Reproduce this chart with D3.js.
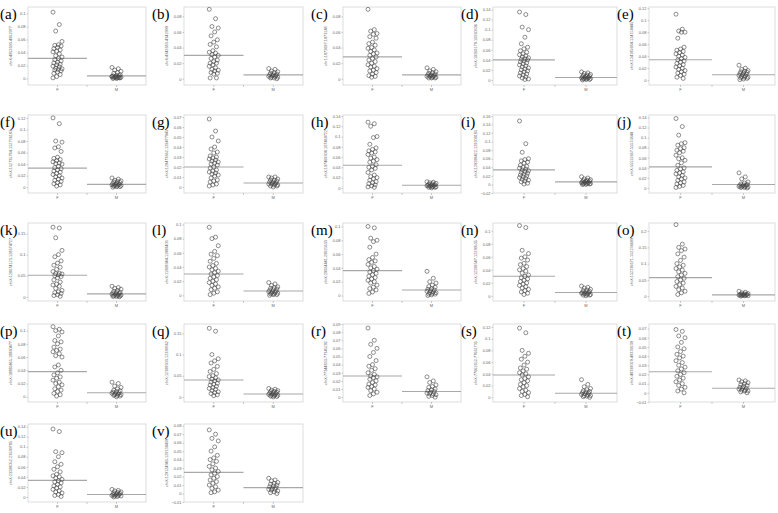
<!DOCTYPE html>
<html>
<head>
<meta charset="utf-8">
<script src="https://cdn.jsdelivr.net/npm/d3@7"></script>
<style>
  body { margin: 0; background: #fff; }
  .panel-label { font-family: "Liberation Serif", "DejaVu Serif", serif; font-size: 15px; fill: #000; }
  .tick text { font-family: "Liberation Sans", Arial, sans-serif; font-size: 4px; fill: #666; }
  .ytitle { font-family: "Liberation Sans", Arial, sans-serif; font-size: 3.8px; fill: #666; }
</style>
</head>
<body>
<div class="canvas"></div>
<script>
const W = 778, H = 513;

// panel letters and y axis titles
const labels = 'abcdefghijklmnopqrstuv'.split('');
const yTitles = [
  'chrX:4952693-4952977', 'chrX:4342683-4342999', 'chr1:1872697-1873148', 'chrX:10260179-10260336', 'chrX:124185684-124159445',
  'chrX:152735784-152736183', 'chrX:129473662-129477945', 'chrX:107469308-107469722', 'chrX:129299422-129300185', 'chrX:55515667-55515844',
  'chrX:128674123-128674727', 'chrX:11908944-11988403', 'chrX:29024441-29025633', 'chrX:12299347-12299535', 'chrX:152236671-152236699',
  'chrX:18880465-18880477', 'chrX:12399303-12399362', 'chrX:77344833-77345292', 'chrX:77661652-77661735', 'chrX:48339029-48339239',
  'chrX:23598052-23599785', 'chrX:129124945-129138439'
];
const groups = ['F', 'M'];

// y axis ranges and tick steps
const yMin = [-0.01, -0.008, -0.008, -0.01, -0.008, -0.01, -0.006, -0.01, -0.02, -0.01, -0.01, -0.008, -0.008, -0.008, -0.015, -0.008, -0.012, -0.006, -0.008, -0.01, -0.01, -0.01];
const yMax = [0.11, 0.092, 0.092, 0.145, 0.122, 0.125, 0.072, 0.142, 0.162, 0.145, 0.175, 0.102, 0.105, 0.112, 0.225, 0.11, 0.172, 0.09, 0.125, 0.075, 0.145, 0.082];
const tickStep = [0.02, 0.02, 0.02, 0.02, 0.02, 0.02, 0.01, 0.02, 0.02, 0.02, 0.05, 0.02, 0.02, 0.02, 0.05, 0.02, 0.05, 0.01, 0.02, 0.01, 0.02, 0.01];

// group means
const fMeans = [0.031, 0.030, 0.028, 0.040, 0.034, 0.033, 0.020, 0.044, 0.034, 0.042, 0.051, 0.030, 0.036, 0.030, 0.057, 0.038, 0.040, 0.026, 0.038, 0.023, 0.033, 0.025];
const mMeans = [0.004, 0.005, 0.005, 0.005, 0.009, 0.005, 0.004, 0.005, 0.006, 0.007, 0.007, 0.006, 0.008, 0.005, 0.004, 0.006, 0.007, 0.007, 0.007, 0.005, 0.005, 0.007];

// female values
const fVals = [
  [0.102, 0.083, 0.073, 0.057, 0.052, 0.051, 0.050, 0.048, 0.046, 0.044, 0.042, 0.041, 0.038, 0.035, 0.033, 0.031, 0.029, 0.027, 0.025, 0.024, 0.022, 0.021, 0.019, 0.018, 0.016, 0.015, 0.014, 0.013, 0.012, 0.010, 0.008, 0.006, 0.003, 0.001],
  [0.089, 0.077, 0.067, 0.065, 0.060, 0.055, 0.050, 0.047, 0.044, 0.041, 0.036, 0.034, 0.033, 0.031, 0.030, 0.028, 0.026, 0.024, 0.022, 0.020, 0.020, 0.018, 0.016, 0.014, 0.012, 0.011, 0.010, 0.008, 0.007, 0.006, 0.001, 0.001],
  [0.089, 0.063, 0.061, 0.058, 0.057, 0.054, 0.052, 0.047, 0.045, 0.043, 0.040, 0.039, 0.037, 0.035, 0.033, 0.032, 0.030, 0.028, 0.026, 0.024, 0.022, 0.020, 0.018, 0.016, 0.015, 0.013, 0.011, 0.010, 0.008, 0.006, 0.004, 0.003, 0.002],
  [0.135, 0.130, 0.105, 0.100, 0.085, 0.072, 0.065, 0.062, 0.058, 0.055, 0.052, 0.050, 0.048, 0.046, 0.044, 0.042, 0.041, 0.040, 0.038, 0.036, 0.034, 0.032, 0.030, 0.028, 0.026, 0.024, 0.022, 0.020, 0.018, 0.016, 0.014, 0.012, 0.010, 0.008, 0.006, 0.004, 0.002, 0.001],
  [0.110, 0.085, 0.082, 0.080, 0.080, 0.070, 0.055, 0.052, 0.050, 0.048, 0.046, 0.044, 0.042, 0.040, 0.038, 0.036, 0.034, 0.032, 0.030, 0.028, 0.026, 0.024, 0.022, 0.020, 0.018, 0.016, 0.014, 0.012, 0.010, 0.008, 0.005, 0.003],
  [0.120, 0.110, 0.080, 0.078, 0.070, 0.068, 0.062, 0.052, 0.050, 0.048, 0.046, 0.044, 0.042, 0.041, 0.040, 0.036, 0.034, 0.032, 0.030, 0.028, 0.026, 0.024, 0.022, 0.020, 0.018, 0.016, 0.014, 0.012, 0.010, 0.008, 0.006, 0.004, 0.002],
  [0.068, 0.056, 0.050, 0.046, 0.040, 0.038, 0.035, 0.034, 0.031, 0.030, 0.029, 0.028, 0.027, 0.026, 0.025, 0.024, 0.023, 0.022, 0.020, 0.019, 0.017, 0.016, 0.015, 0.014, 0.013, 0.012, 0.011, 0.009, 0.007, 0.006, 0.005, 0.003, 0.002, 0.001],
  [0.128, 0.125, 0.120, 0.100, 0.098, 0.085, 0.078, 0.075, 0.072, 0.070, 0.068, 0.065, 0.060, 0.058, 0.055, 0.052, 0.050, 0.045, 0.042, 0.040, 0.038, 0.035, 0.030, 0.025, 0.022, 0.020, 0.018, 0.015, 0.012, 0.010, 0.008, 0.006, 0.004, 0.002, 0.001],
  [0.148, 0.095, 0.075, 0.060, 0.058, 0.055, 0.052, 0.050, 0.045, 0.042, 0.040, 0.038, 0.036, 0.034, 0.032, 0.030, 0.028, 0.026, 0.024, 0.022, 0.020, 0.018, 0.016, 0.014, 0.012, 0.010, 0.008, 0.006, 0.003, 0.001],
  [0.138, 0.122, 0.105, 0.090, 0.088, 0.085, 0.080, 0.078, 0.075, 0.073, 0.070, 0.065, 0.060, 0.058, 0.055, 0.050, 0.045, 0.040, 0.038, 0.035, 0.032, 0.030, 0.028, 0.025, 0.022, 0.020, 0.018, 0.015, 0.012, 0.010, 0.008, 0.005, 0.003, 0.001],
  [0.165, 0.163, 0.140, 0.110, 0.100, 0.095, 0.085, 0.080, 0.075, 0.070, 0.065, 0.060, 0.056, 0.055, 0.054, 0.052, 0.050, 0.048, 0.045, 0.040, 0.035, 0.030, 0.028, 0.025, 0.020, 0.015, 0.012, 0.010, 0.008, 0.005, 0.003, 0.001],
  [0.096, 0.082, 0.080, 0.070, 0.062, 0.058, 0.056, 0.052, 0.048, 0.045, 0.042, 0.040, 0.038, 0.036, 0.034, 0.032, 0.030, 0.028, 0.026, 0.024, 0.022, 0.020, 0.018, 0.016, 0.014, 0.012, 0.010, 0.008, 0.005, 0.003, 0.001],
  [0.100, 0.098, 0.083, 0.080, 0.078, 0.070, 0.060, 0.055, 0.052, 0.050, 0.048, 0.045, 0.042, 0.040, 0.038, 0.036, 0.034, 0.032, 0.030, 0.028, 0.026, 0.024, 0.022, 0.020, 0.018, 0.015, 0.012, 0.010, 0.008, 0.005, 0.003],
  [0.108, 0.105, 0.070, 0.065, 0.060, 0.058, 0.055, 0.050, 0.048, 0.045, 0.042, 0.040, 0.038, 0.035, 0.032, 0.030, 0.028, 0.026, 0.024, 0.022, 0.020, 0.018, 0.016, 0.014, 0.012, 0.010, 0.008, 0.006, 0.004, 0.002],
  [0.220, 0.160, 0.150, 0.145, 0.140, 0.130, 0.120, 0.110, 0.100, 0.095, 0.090, 0.085, 0.080, 0.075, 0.070, 0.065, 0.060, 0.055, 0.050, 0.045, 0.040, 0.035, 0.030, 0.025, 0.020, 0.015, 0.010, 0.005],
  [0.106, 0.102, 0.100, 0.098, 0.092, 0.085, 0.083, 0.080, 0.075, 0.072, 0.070, 0.068, 0.065, 0.062, 0.060, 0.048, 0.045, 0.040, 0.036, 0.033, 0.030, 0.028, 0.025, 0.022, 0.020, 0.018, 0.015, 0.012, 0.010, 0.008, 0.005, 0.003, 0.001],
  [0.162, 0.155, 0.100, 0.090, 0.085, 0.080, 0.072, 0.065, 0.060, 0.055, 0.050, 0.048, 0.045, 0.042, 0.040, 0.038, 0.035, 0.032, 0.030, 0.028, 0.025, 0.022, 0.020, 0.018, 0.015, 0.012, 0.010, 0.008, 0.005, 0.003],
  [0.085, 0.070, 0.065, 0.060, 0.055, 0.050, 0.045, 0.040, 0.038, 0.035, 0.033, 0.030, 0.028, 0.026, 0.025, 0.024, 0.022, 0.020, 0.018, 0.016, 0.015, 0.013, 0.012, 0.010, 0.008, 0.006, 0.004, 0.002],
  [0.118, 0.110, 0.080, 0.075, 0.070, 0.065, 0.060, 0.055, 0.050, 0.048, 0.045, 0.042, 0.040, 0.038, 0.035, 0.032, 0.030, 0.028, 0.025, 0.022, 0.020, 0.018, 0.015, 0.012, 0.010, 0.008, 0.005, 0.003, 0.001],
  [0.069, 0.067, 0.062, 0.060, 0.055, 0.050, 0.048, 0.045, 0.042, 0.040, 0.038, 0.035, 0.033, 0.030, 0.028, 0.026, 0.024, 0.022, 0.020, 0.018, 0.016, 0.014, 0.012, 0.010, 0.008, 0.006, 0.004, 0.002, 0.000],
  [0.135, 0.130, 0.090, 0.088, 0.080, 0.070, 0.065, 0.060, 0.055, 0.050, 0.045, 0.042, 0.040, 0.038, 0.035, 0.032, 0.030, 0.028, 0.025, 0.022, 0.020, 0.018, 0.015, 0.012, 0.010, 0.008, 0.005, 0.003, 0.001],
  [0.075, 0.070, 0.065, 0.062, 0.055, 0.050, 0.045, 0.042, 0.040, 0.038, 0.035, 0.032, 0.030, 0.028, 0.026, 0.024, 0.022, 0.020, 0.018, 0.016, 0.014, 0.012, 0.010, 0.008, 0.006, 0.004, 0.002, 0.001]
];

// male values
const mVals = [
  [0.017, 0.015, 0.013, 0.011, 0.009, 0.008, 0.006, 0.005, 0.004, 0.004, 0.003, 0.003, 0.002, 0.002, 0.002, 0.001, 0.001, 0.001, 0.000, 0.000, 0.001, 0.002, 0.003],
  [0.013, 0.012, 0.010, 0.009, 0.008, 0.007, 0.006, 0.005, 0.005, 0.004, 0.004, 0.003, 0.003, 0.002, 0.002, 0.001, 0.001, 0.000],
  [0.014, 0.012, 0.010, 0.009, 0.008, 0.007, 0.006, 0.005, 0.005, 0.004, 0.004, 0.003, 0.003, 0.003, 0.002, 0.002, 0.001, 0.001, 0.001],
  [0.016, 0.014, 0.013, 0.011, 0.010, 0.009, 0.008, 0.007, 0.006, 0.005, 0.005, 0.004, 0.004, 0.003, 0.003, 0.002, 0.002, 0.001, 0.001, 0.000],
  [0.025, 0.020, 0.018, 0.016, 0.015, 0.014, 0.013, 0.012, 0.011, 0.010, 0.009, 0.008, 0.007, 0.006, 0.005, 0.005, 0.004, 0.003, 0.002, 0.001],
  [0.016, 0.014, 0.012, 0.011, 0.010, 0.009, 0.008, 0.007, 0.006, 0.005, 0.005, 0.004, 0.004, 0.003, 0.003, 0.002, 0.002, 0.001, 0.001, 0.000],
  [0.010, 0.010, 0.009, 0.008, 0.007, 0.007, 0.006, 0.005, 0.005, 0.004, 0.004, 0.003, 0.003, 0.003, 0.002, 0.002, 0.001, 0.001, 0.000],
  [0.012, 0.011, 0.010, 0.009, 0.008, 0.007, 0.006, 0.006, 0.005, 0.005, 0.004, 0.004, 0.003, 0.003, 0.002, 0.002, 0.001, 0.001, 0.000],
  [0.018, 0.015, 0.013, 0.011, 0.010, 0.009, 0.008, 0.007, 0.006, 0.005, 0.005, 0.004, 0.003, 0.003, 0.002, 0.002, 0.001, 0.001, 0.000, 0.000],
  [0.030, 0.022, 0.018, 0.012, 0.010, 0.008, 0.007, 0.006, 0.005, 0.005, 0.004, 0.003, 0.003, 0.002, 0.002, 0.001, 0.001, 0.000],
  [0.025, 0.022, 0.020, 0.018, 0.015, 0.013, 0.011, 0.010, 0.009, 0.008, 0.007, 0.006, 0.005, 0.004, 0.004, 0.003, 0.002, 0.002, 0.001, 0.001, 0.000],
  [0.018, 0.016, 0.014, 0.012, 0.011, 0.010, 0.009, 0.008, 0.007, 0.006, 0.005, 0.005, 0.004, 0.003, 0.003, 0.002, 0.002, 0.001, 0.001, 0.000],
  [0.035, 0.025, 0.020, 0.018, 0.015, 0.013, 0.012, 0.010, 0.009, 0.008, 0.007, 0.006, 0.005, 0.004, 0.004, 0.003, 0.002, 0.002, 0.001, 0.000],
  [0.015, 0.013, 0.012, 0.010, 0.009, 0.008, 0.007, 0.006, 0.005, 0.005, 0.004, 0.004, 0.003, 0.003, 0.002, 0.002, 0.001, 0.001, 0.000],
  [0.015, 0.012, 0.010, 0.008, 0.007, 0.006, 0.005, 0.005, 0.004, 0.004, 0.003, 0.003, 0.002, 0.002, 0.001, 0.001, 0.000],
  [0.022, 0.020, 0.016, 0.014, 0.012, 0.010, 0.009, 0.008, 0.007, 0.006, 0.005, 0.005, 0.004, 0.003, 0.003, 0.002, 0.002, 0.001, 0.000],
  [0.020, 0.018, 0.016, 0.015, 0.013, 0.012, 0.011, 0.010, 0.009, 0.008, 0.007, 0.006, 0.005, 0.004, 0.004, 0.003, 0.002, 0.001, 0.000],
  [0.025, 0.020, 0.018, 0.015, 0.013, 0.012, 0.010, 0.009, 0.008, 0.007, 0.006, 0.005, 0.004, 0.004, 0.003, 0.002, 0.001, 0.000],
  [0.030, 0.022, 0.018, 0.015, 0.013, 0.011, 0.010, 0.009, 0.008, 0.007, 0.006, 0.005, 0.004, 0.003, 0.003, 0.002, 0.001, 0.000],
  [0.014, 0.013, 0.012, 0.011, 0.010, 0.009, 0.008, 0.007, 0.006, 0.005, 0.005, 0.004, 0.003, 0.003, 0.002, 0.002, 0.001, 0.000],
  [0.015, 0.013, 0.012, 0.010, 0.009, 0.008, 0.007, 0.006, 0.005, 0.005, 0.004, 0.003, 0.003, 0.002, 0.002, 0.001, 0.000],
  [0.018, 0.016, 0.015, 0.013, 0.012, 0.011, 0.010, 0.009, 0.008, 0.007, 0.006, 0.005, 0.005, 0.004, 0.003, 0.002, 0.001, 0.000]
];

// grid layout (frame edges in px)
const colLeft = [28, 184, 343, 493, 649];
const colRight = [146, 303, 461, 617, 775];
const rowTop = [7, 115, 223, 324, 424];
const frameH = 78;

const svg = d3.select('.canvas')
  .append('svg')
  .attr('width', W)
  .attr('height', H);

// small fixed spread so circles don't sit on one vertical line
const jitter = i => ((i * 7) % 11 - 5) * 0.9;

labels.forEach((lab, k) => {
  const col = k % 5, row = Math.floor(k / 5);
  const x0 = colLeft[col], x1 = colRight[col];
  const y0 = rowTop[row], y1 = y0 + frameH;

  const x = d3.scaleBand().domain(groups).range([x0, x1]);
  const y = d3.scaleLinear().domain([yMin[k], yMax[k]]).range([y1, y0]);

  const g = svg.append('g');

  // frame
  g.append('rect')
    .attr('x', x0).attr('y', y0)
    .attr('width', x1 - x0).attr('height', y1 - y0)
    .attr('fill', 'none').attr('stroke', '#d4d4d4').attr('stroke-width', 0.8);

  // y axis
  const ticks = d3.range(Math.ceil(yMin[k] / tickStep[k] - 1e-9), Math.floor(yMax[k] / tickStep[k] + 1e-9) + 1)
    .map(t => +(t * tickStep[k]).toFixed(3));
  const yAxis = d3.axisLeft(y).tickValues(ticks).tickSize(1.5).tickPadding(1)
    .tickFormat(d => d === 0 ? '0' : d3.format('')(d));
  const ya = g.append('g').attr('transform', `translate(${x0},0)`).call(yAxis);
  ya.select('.domain').remove();
  ya.selectAll('line').attr('stroke', '#999').attr('stroke-width', 0.5);

  // x axis
  const xa = g.append('g').attr('transform', `translate(0,${y1})`)
    .call(d3.axisBottom(x).tickSize(2).tickPadding(1.5));
  xa.select('.domain').remove();
  xa.selectAll('line').attr('stroke', '#999').attr('stroke-width', 0.5);
  g.append('line')
    .attr('x1', (x0 + x1) / 2).attr('x2', (x0 + x1) / 2)
    .attr('y1', y1).attr('y2', y1 + 2)
    .attr('stroke', '#999').attr('stroke-width', 0.5);

  // y title
  g.append('text')
    .attr('class', 'ytitle')
    .attr('transform', `translate(${x0 - 16},${(y0 + y1) / 2}) rotate(-90)`)
    .attr('text-anchor', 'middle')
    .text(yTitles[k]);

  // mean lines
  [fMeans[k], mMeans[k]].forEach((m, gi) => {
    g.append('line')
      .attr('x1', x(groups[gi])).attr('x2', x(groups[gi]) + x.bandwidth())
      .attr('y1', y(m)).attr('y2', y(m))
      .attr('stroke', '#a8a8a8').attr('stroke-width', 1.1);
  });

  // points
  [fVals[k], mVals[k]].forEach((vals, gi) => {
    const cx = x(groups[gi]) + x.bandwidth() / 2;
    g.selectAll(null)
      .data(vals)
      .enter().append('circle')
      .attr('cx', (d, i) => cx + jitter(i))
      .attr('cy', d => y(d))
      .attr('r', 2)
      .attr('fill', 'none')
      .attr('stroke', '#444')
      .attr('stroke-width', 0.6);
  });

  // panel letter
  svg.append('text')
    .attr('class', 'panel-label')
    .attr('x', Math.max(0, x0 - 32))
    .attr('y', y0 + 12)
    .text(`(${lab})`);
});
</script>
</body>
</html>
